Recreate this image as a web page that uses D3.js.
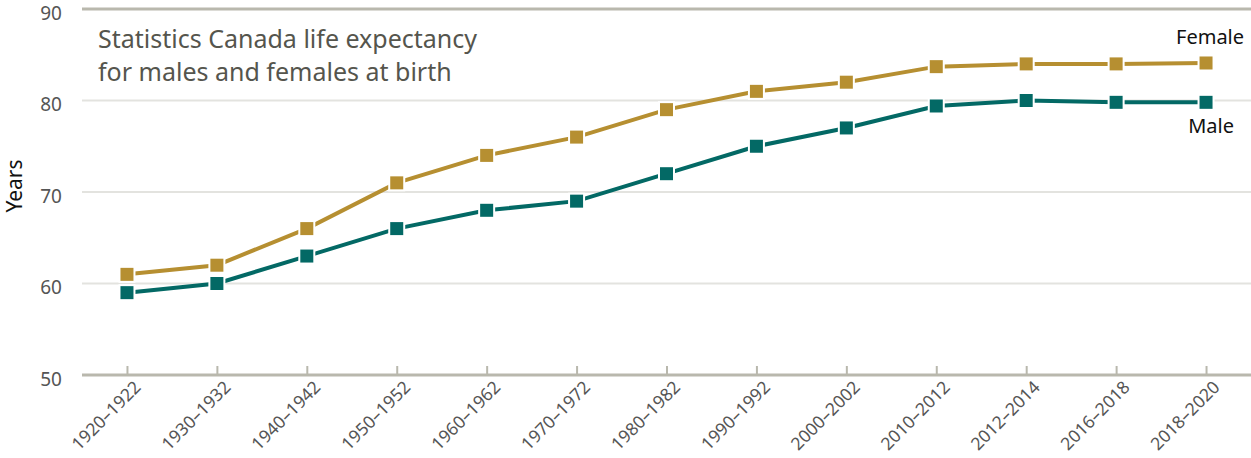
<!DOCTYPE html>
<html>
<head>
<meta charset="utf-8">
<script src="https://cdn.jsdelivr.net/npm/d3@7"></script>
<style>
  body { margin: 0; background: #fff; }
  svg text { font-family: "Noto Sans", "Open Sans", sans-serif; }
</style>
</head>
<body>
<div id="chart"></div>
<script>
// periods and life expectancy (years)
var periods = ["1920–1922","1930–1932","1940–1942","1950–1952","1960–1962","1970–1972",
               "1980–1982","1990–1992","2000–2002","2010–2012","2012–2014","2016–2018","2018–2020"];
var female = [61, 62, 66, 71, 74, 76, 79, 81, 82, 83.7, 84.0, 84.0, 84.1];
var male   = [59, 60, 63, 66, 68, 69, 72, 75, 77, 79.4, 80.0, 79.8, 79.8];
var yTicks = [50, 60, 70, 80, 90];

var width = 1251, height = 458;
var margin = {top: 9, right: 0, bottom: 83, left: 82};

var svg = d3.select("#chart").append("svg")
    .attr("width", width)
    .attr("height", height);

var x = d3.scalePoint()
    .domain(periods)
    .range([margin.left, width - margin.right])
    .padding(0.5);

var y = d3.scaleLinear()
    .domain([50, 90])
    .range([height - margin.bottom, margin.top]);

// grid lines
svg.append("g").selectAll("line")
    .data(yTicks)
    .enter().append("line")
    .attr("x1", margin.left)
    .attr("x2", width - margin.right)
    .attr("y1", function(d) { return y(d); })
    .attr("y2", function(d) { return y(d); })
    .attr("stroke", function(d) { return (d == 50 || d == 90) ? "#b9b8ad" : "#e3e3df"; })
    .attr("stroke-width", function(d) { return (d == 50 || d == 90) ? 3 : 2; });

// y labels
svg.append("g").selectAll("text")
    .data(yTicks)
    .enter().append("text")
    .attr("x", 62)
    .attr("y", function(d) { return y(d) + 4; })
    .attr("dy", "0.35em")
    .attr("text-anchor", "end")
    .attr("font-size", 19)
    .attr("fill", "#555")
    .text(function(d) { return d; });

// x axis
var xAxis = svg.append("g")
    .attr("transform", "translate(0," + y(50) + ")")
    .call(d3.axisBottom(x).tickSize(-9).tickSizeOuter(0));
xAxis.select(".domain").remove();
xAxis.selectAll(".tick line").attr("stroke", "#b9b8ad").attr("stroke-width", 2);
xAxis.selectAll(".tick text")
    .attr("font-size", 17.5)
    .attr("fill", "#555")
    .attr("text-anchor", "end")
    .attr("transform", "translate(10,9) rotate(-45)")
    .attr("dy", "0.35em")
    .attr("y", 0)
    .attr("x", 0);

// y axis title
svg.append("text")
    .attr("transform", "translate(22,186) rotate(-90)")
    .attr("text-anchor", "middle")
    .attr("font-size", 21)
    .attr("fill", "#111")
    .text("Years");

// chart title
var title = svg.append("text")
    .attr("x", 98)
    .attr("font-size", 25)
    .attr("fill", "#55554d");
title.append("tspan").attr("x", 98).attr("y", 48).text("Statistics Canada life expectancy");
title.append("tspan").attr("x", 98).attr("y", 81).text("for males and females at birth");

var series = [
  {name: "Female", values: female, color: "#b68f31"},
  {name: "Male", values: male, color: "#036965"}
];

var line = d3.line()
    .x(function(d, i) { return x(periods[i]); })
    .y(function(d) { return y(d); });

series.forEach(function(s) {
  svg.append("path")
      .datum(s.values)
      .attr("fill", "none")
      .attr("stroke", s.color)
      .attr("stroke-width", 4)
      .attr("d", line);

  svg.append("g").selectAll("rect")
      .data(s.values)
      .enter().append("rect")
      .attr("x", function(d, i) { return x(periods[i]) - 7.5; })
      .attr("y", function(d) { return y(d) - 7.5; })
      .attr("width", 15)
      .attr("height", 15)
      .attr("fill", s.color)
      .attr("stroke", "#fff")
      .attr("stroke-width", 2);
});

// series labels
var last = periods.length - 1;
svg.append("text")
    .attr("x", x(periods[last]) + 4)
    .attr("y", y(female[last]) - 19)
    .attr("text-anchor", "middle")
    .attr("font-size", 20)
    .attr("fill", "#111")
    .text("Female");
svg.append("text")
    .attr("x", x(periods[last]) + 5)
    .attr("y", y(male[last]) + 31)
    .attr("text-anchor", "middle")
    .attr("font-size", 20)
    .attr("fill", "#111")
    .text("Male");
</script>
</body>
</html>
